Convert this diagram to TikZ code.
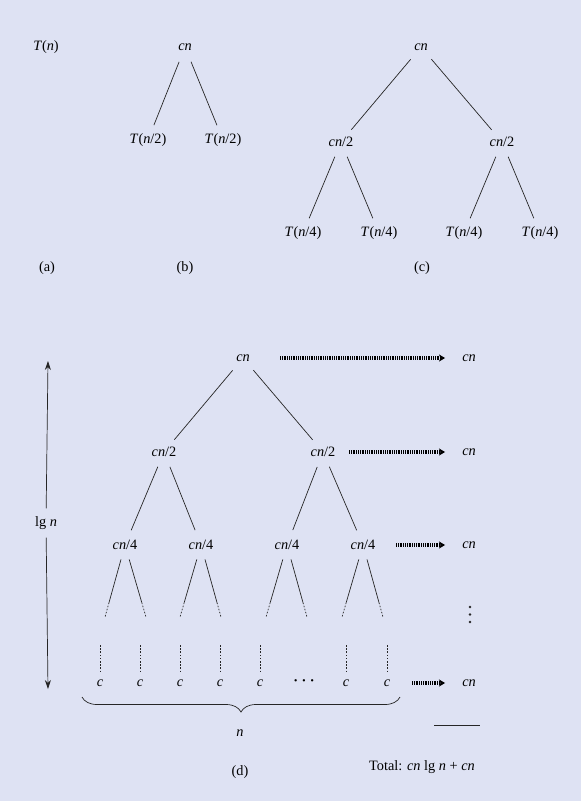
\documentclass[tikz,border=0pt]{standalone}
\usepackage{fontspec}
\setmainfont{Liberation Serif}
\usepackage{xcolor}
\usetikzlibrary{arrows.meta,positioning,decorations.pathreplacing}
\definecolor{bgpanel}{RGB}{222,226,243}
\newcommand{\vi}[1]{\textit{#1}}

\begin{document}
\begin{tikzpicture}[x=1pt,y=-1pt,
  lbl/.style={inner sep=1pt,font=\fontsize{14.3}{17}\selectfont},
  edge/.style={draw=black!85,line width=0.7pt,shorten <=16pt,shorten >=16pt},
  stub/.style={draw=black!85,line width=0.7pt},
  dotstub/.style={draw=black!85,line width=0.7pt,dash pattern=on 1.6pt off 1.6pt},
  sumarrow/.style={draw=black,line width=3.4pt,dash pattern=on 1pt off 0.8pt,
    -{Stealth[length=6pt,width=7pt,inset=1.5pt]}}]
\fill[bgpanel] (0,0) rectangle (581,801);
\useasboundingbox (0,0) rectangle (581,801);

% (a)
\node[lbl] (ta) at (46,47){\vi{T}(\vi{n})};
\node[lbl] (la) at (47,268){(a)};

% (b)
\node[lbl] (bc) at (185,47){\vi{cn}};
  \node[lbl] (bl) at (148,140){\vi{T}(\vi{n}/2)};
    \draw[edge] (bc.center) to (bl.center);
  \node[lbl] (br) at (223,140){\vi{T}(\vi{n}/2)};
    \draw[edge] (bc.center) to (br.center);
\node[lbl] (lb) at (185,268){(b)};

% (c)
\node[lbl] (cc) at (421,47){\vi{cn}};
  \node[lbl] (cl) at (341,142){\vi{cn}/2};
    \draw[edge] (cc.center) to (cl.center);
  \node[lbl] (cr) at (502,142){\vi{cn}/2};
    \draw[edge] (cc.center) to (cr.center);
   \node[lbl] (c1) at (303,233){\vi{T}(\vi{n}/4)};
    \draw[edge] (cl.center) to (c1.center);
   \node[lbl] (c2) at (379,233){\vi{T}(\vi{n}/4)};
    \draw[edge] (cl.center) to (c2.center);
   \node[lbl] (c3) at (464,233){\vi{T}(\vi{n}/4)};
    \draw[edge] (cr.center) to (c3.center);
   \node[lbl] (c4) at (540,233){\vi{T}(\vi{n}/4)};
    \draw[edge] (cr.center) to (c4.center);
\node[lbl] (lc) at (422,268){(c)};

% (d)
\node[lbl] (dr) at (243,358){\vi{cn}};
  \node[lbl] (d1) at (164,452){\vi{cn}/2};
    \draw[edge] (dr.center) to (d1.center);
  \node[lbl] (d2) at (323,452){\vi{cn}/2};
    \draw[edge] (dr.center) to (d2.center);
   \node[lbl] (e1) at (125,545){\vi{cn}/4};
    \draw[edge] (d1.center) to (e1.center);
   \node[lbl] (e2) at (201,545){\vi{cn}/4};
    \draw[edge] (d1.center) to (e2.center);
   \node[lbl] (e3) at (287,545){\vi{cn}/4};
    \draw[edge] (d2.center) to (e3.center);
   \node[lbl] (e4) at (363,545){\vi{cn}/4};
    \draw[edge] (d2.center) to (e4.center);

% stubs below the cn/4 nodes
\coordinate (g1) at (105,617); \coordinate (g2) at (146,617);
\coordinate (g3) at (180,617); \coordinate (g4) at (221,617);
\coordinate (g5) at (266,617); \coordinate (g6) at (307,617);
\coordinate (g7) at (342,617); \coordinate (g8) at (383,617);
\path (e1.center) -- (g1) coordinate[pos=0.8] (h1);
\path (e1.center) -- (g2) coordinate[pos=0.8] (h2);
\path (e2.center) -- (g3) coordinate[pos=0.8] (h3);
\path (e2.center) -- (g4) coordinate[pos=0.8] (h4);
\path (e3.center) -- (g5) coordinate[pos=0.8] (h5);
\path (e3.center) -- (g6) coordinate[pos=0.8] (h6);
\path (e4.center) -- (g7) coordinate[pos=0.8] (h7);
\path (e4.center) -- (g8) coordinate[pos=0.8] (h8);
\draw[stub,shorten <=15pt] (e1.center) to (h1); \draw[dotstub] (h1) to (g1);
\draw[stub,shorten <=15pt] (e1.center) to (h2); \draw[dotstub] (h2) to (g2);
\draw[stub,shorten <=15pt] (e2.center) to (h3); \draw[dotstub] (h3) to (g3);
\draw[stub,shorten <=15pt] (e2.center) to (h4); \draw[dotstub] (h4) to (g4);
\draw[stub,shorten <=15pt] (e3.center) to (h5); \draw[dotstub] (h5) to (g5);
\draw[stub,shorten <=15pt] (e3.center) to (h6); \draw[dotstub] (h6) to (g6);
\draw[stub,shorten <=15pt] (e4.center) to (h7); \draw[dotstub] (h7) to (g7);
\draw[stub,shorten <=15pt] (e4.center) to (h8); \draw[dotstub] (h8) to (g8);

% leaves
\node[lbl] (f1) at (100,683){\vi{c}};
\node[lbl] (f2) at (140,683){\vi{c}};
\node[lbl] (f3) at (180,683){\vi{c}};
\node[lbl] (f4) at (220,683){\vi{c}};
\node[lbl] (f5) at (260,683){\vi{c}};
\node[lbl] (f6) at (304,683){\textbf{·\hspace{3.5pt}·\hspace{3.5pt}·}};
\node[lbl] (f7) at (346,683){\vi{c}};
\node[lbl] (f8) at (387,683){\vi{c}};
\coordinate (k1) at (100,645); \draw[dotstub,shorten >=6pt] (k1) to (f1.north);
\coordinate (k2) at (140,645); \draw[dotstub,shorten >=6pt] (k2) to (f2.north);
\coordinate (k3) at (180,645); \draw[dotstub,shorten >=6pt] (k3) to (f3.north);
\coordinate (k4) at (220,645); \draw[dotstub,shorten >=6pt] (k4) to (f4.north);
\coordinate (k5) at (260,645); \draw[dotstub,shorten >=6pt] (k5) to (f5.north);
\coordinate (k7) at (346,645); \draw[dotstub,shorten >=6pt] (k7) to (f7.north);
\coordinate (k8) at (387,645); \draw[dotstub,shorten >=6pt] (k8) to (f8.north);

% brace and n
\coordinate (bl1) at (82,697);
\coordinate (bl2) at (400,697);
\draw[stub,decorate,decoration={brace,mirror,amplitude=15pt}] (bl1) to (bl2);
\node[lbl] (nn) at (240,733){\vi{n}};
\node[lbl] (ld) at (240,772){(d)};

% height arrow
\node[lbl,inner ysep=8pt] (lg) at (46,523){lg \vi{n}};
\coordinate (lt) at (48,361);
\coordinate (lo) at (48,689);
\draw[stub,-{Stealth[length=9pt,width=6pt]}] (lg) to (lt);
\draw[stub,-{Stealth[length=9pt,width=6pt]}] (lg) to (lo);

% level sums
\node[lbl] (s1) at (469,358){\vi{cn}};
\node[lbl] (s2) at (469,452){\vi{cn}};
\node[lbl] (s3) at (469,545){\vi{cn}};
\node[lbl] (s4) at (469,683){\vi{cn}};
\coordinate (a1) at (280,358); \draw[sumarrow] (a1) to ([xshift=-16pt]s1.west);
\coordinate (a2) at (349,452); \draw[sumarrow] (a2) to ([xshift=-16pt]s2.west);
\coordinate (a3) at (396,545); \draw[sumarrow] (a3) to ([xshift=-16pt]s3.west);
\coordinate (a4) at (412,683); \draw[sumarrow] (a4) to ([xshift=-16pt]s4.west);
\fill[black!85] (470,607) circle (1.3pt) (470,614.5) circle (1.3pt) (470,622) circle (1.3pt);

% total
\coordinate (t1) at (434,725);
\coordinate (t2) at (480,725);
\draw[stub] (t1) to (t2);
\node[lbl] (tt) at (422,767){Total: \vi{cn} lg \vi{n} + \vi{cn}};

\end{tikzpicture}
\end{document}
